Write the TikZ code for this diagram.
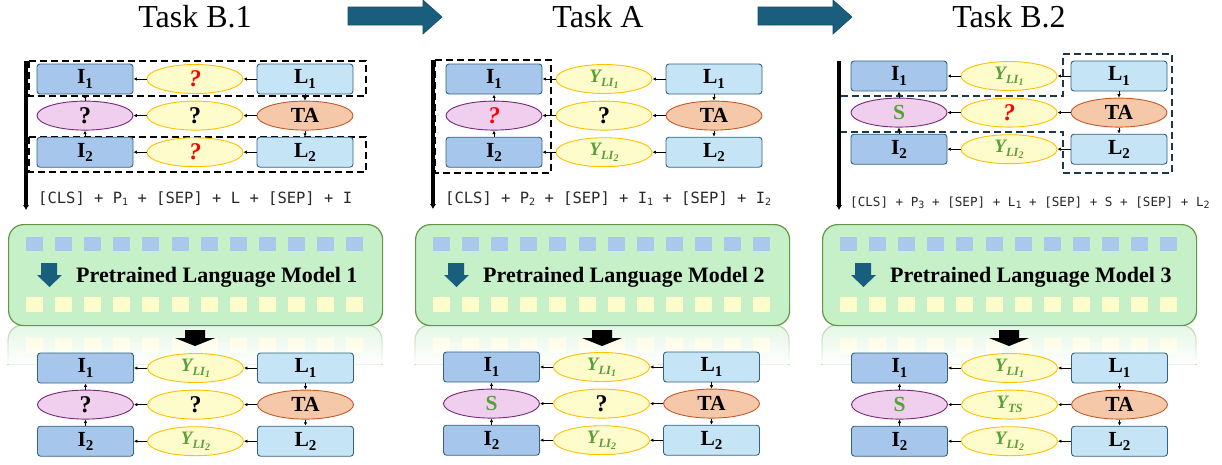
\documentclass[tikz,border=0pt]{standalone}
\usepackage{fontspec}
\setmainfont{Liberation Serif}
\newfontfamily\codefont{DejaVu Sans Mono}
\usetikzlibrary{shapes.geometric,arrows.meta,fadings}

\definecolor{iblue}{RGB}{166,199,235}
\definecolor{lblue}{RGB}{197,228,245}
\definecolor{boxedge}{RGB}{50,100,130}
\definecolor{yelfill}{RGB}{255,252,204}
\definecolor{yeledge}{RGB}{255,192,0}
\definecolor{pinkfill}{RGB}{240,206,238}
\definecolor{pinkedge}{RGB}{120,40,120}
\definecolor{tafill}{RGB}{246,200,170}
\definecolor{taedge}{RGB}{196,90,40}
\definecolor{okgreen}{RGB}{88,160,58}
\definecolor{modfill}{RGB}{197,240,200}
\definecolor{modedge}{RGB}{100,150,70}
\definecolor{sqblue}{RGB}{169,200,236}
\definecolor{sqyel}{RGB}{255,252,204}
\definecolor{arrowteal}{RGB}{26,94,126}
\definecolor{dashnavy}{RGB}{30,55,70}
\definecolor{codegray}{RGB}{40,40,40}

% label with a lowered index
\newcommand\nsub[2]{#1\raisebox{-0.45ex}{\fontsize{15}{15}\selectfont #2}}
% question marks: red ones slanted, black ones upright
\newcommand\qred{\textcolor{red}{\fontsize{24}{26}\selectfont\bfseries\itshape ?}}
\newcommand\qblk{{\fontsize{24}{26}\selectfont\bfseries ?}}
% green outputs
\newcommand\yli[1]{\textcolor{okgreen}{\fontsize{19}{20}\selectfont\itshape Y\raisebox{-0.45ex}{\fontsize{12.5}{13}\selectfont LI\raisebox{-0.35ex}{\fontsize{10}{10}\selectfont #1}}}}
\newcommand\yts{\textcolor{okgreen}{\fontsize{19}{20}\selectfont\itshape Y\raisebox{-0.45ex}{\fontsize{12.5}{13}\selectfont TS}}}
\newcommand\sgreen{\textcolor{okgreen}{\bfseries S}}
% subscript inside the token sequences
\newcommand\csub[1]{\raisebox{-0.35ex}{\fontsize{10}{10}\selectfont #1}}

\tikzset{
  cell/.style={minimum width=96pt, minimum height=30pt, inner sep=0pt,
    line width=0.9pt, font=\fontsize{21.5}{23}\selectfont\bfseries},
  ibox/.style={cell, rectangle, rounded corners=3pt, draw=boxedge, fill=iblue},
  lbox/.style={cell, rectangle, rounded corners=3pt, draw=boxedge, fill=lblue},
  yell/.style={cell, ellipse, minimum height=29pt, draw=yeledge, fill=yelfill},
  pinkell/.style={cell, ellipse, minimum height=29pt, draw=pinkedge, fill=pinkfill},
  taell/.style={cell, ellipse, minimum height=29pt, draw=taedge, fill=tafill},
  conn/.style={line width=0.9pt, -{Latex[length=3.5pt,width=3.5pt]}},
  dashbox/.style={line width=1.8pt, dash pattern=on 7pt off 4pt},
  spine/.style={line width=3.2pt, -{Latex[length=5pt,width=6.5pt]}},
  modbox/.style={rectangle, rounded corners=15pt, draw=modedge, line width=1.2pt,
    fill=modfill, minimum width=374pt, minimum height=101pt, inner sep=0pt},
  seqtext/.style={anchor=base west, inner sep=0pt, text=codegray},
  title/.style={anchor=base, inner sep=0pt, font=\fontsize{32}{36}\selectfont},
}

% 3x3 grid of inputs / outputs
% #1 prefix, #2 x of I column, #3 y of top row,
% #4 top middle, #5 left middle, #6 centre, #7 bottom middle
\newcommand\taskgrid[7]{%
  \begin{scope}[shift={(#2,#3)}]
    \node[ibox] (#1i1) at (0,0) {\nsub{I}{1}};
    \node[yell] (#1y1) at (110,0) {#4};
    \node[lbox] (#1l1) at (220,0) {\nsub{L}{1}};
    \node[pinkell] (#1pk) at (0,36.6) {#5};
    \node[yell] (#1y2) at (110,36.6) {#6};
    \node[taell] (#1ta) at (220,36.6) {TA};
    \node[ibox] (#1i2) at (0,73.2) {\nsub{I}{2}};
    \node[yell] (#1y3) at (110,73.2) {#7};
    \node[lbox] (#1l2) at (220,73.2) {\nsub{L}{2}};
  \end{scope}
  \draw[conn] (#1l1) -- (#1y1);
  \draw[conn] (#1y1) -- (#1i1);
  \draw[conn] (#1ta) -- (#1y2);
  \draw[conn] (#1y2) -- (#1pk);
  \draw[conn] (#1l2) -- (#1y3);
  \draw[conn] (#1y3) -- (#1i2);
  \draw[conn] (#1l1) -- (#1ta);
  \draw[conn] (#1ta) -- (#1l2);
  \draw[conn] (#1i2) -- (#1pk);
  \draw[conn] (#1pk) -- (#1i1);
}

% language model block with its reflection and output arrow
% #1 prefix, #2 left, #3 top, #4 model number
\newcommand\modelblock[4]{%
  \begin{scope}[shift={(#2,#3)}]
    % mirrored copy below the block
    \begin{scope}
      \clip (-3,101) rectangle (377,140);
      \draw[rounded corners=15pt, draw=modedge!45!white, line width=1.2pt,
        fill=modfill!45!white] (0,101) rectangle (374,203);
      \foreach \k in {0,...,11}
        \fill[sqyel!70!white] (18+29.1*\k,114) rectangle ++(17,15);
    \end{scope}
    \fill[white, path fading=north] (-3,101) rectangle (377,140);
    \node[modbox, anchor=north west] (#1m) at (0,0) {};
    \foreach \k in {0,...,11} {
      \fill[sqblue] (18+29.1*\k,13) rectangle ++(17,14);
      \fill[sqyel] (18+29.1*\k,73) rectangle ++(17,15);
    }
    \fill[arrowteal] (33,39) -- (49,39) -- (49,51) -- (54,51) -- (41.5,63)
      -- (29,51) -- (33,51) -- cycle;
    \node[anchor=west, inner sep=0pt, font=\fontsize{22}{24}\selectfont\bfseries]
      (#1t) at (68,53) {Pretrained Language Model #4};
    \fill[black] (177,106) -- (197,106) -- (197,114) -- (207,114) -- (187,122)
      -- (167,114) -- (177,114) -- cycle;
  \end{scope}
}

\begin{document}
\begin{tikzpicture}[x=1pt, y=-1pt]
  \useasboundingbox (0,0) rectangle (1222,464);

  % titles and stage arrows
  \node[title] (tb1) at (195,27) {Task B.1};
  \node[title] (ta) at (598,27) {Task A};
  \node[title] (tb2) at (1009,27) {Task B.2};
  \filldraw[fill=arrowteal, draw=arrowteal!80!black, line width=0.6pt]
    (348,7) -- (423,7) -- (423,0) -- (442,17) -- (423,34) -- (423,25) -- (348,25) -- cycle;
  \filldraw[fill=arrowteal, draw=arrowteal!80!black, line width=0.6pt]
    (758,7) -- (833,7) -- (833,0) -- (852,17) -- (833,34) -- (833,25) -- (758,25) -- cycle;

  % ---------- Task B.1 ----------
  \draw[dashbox] (29,61) rectangle (366,96);
  \draw[dashbox] (29,137) rectangle (366,172);
  \taskgrid{p}{85}{79}{\qred}{\qblk}{\qblk}{\qred}
  \draw[spine] (26,61) -- (26,210);
  \node[seqtext, font=\codefont\fontsize{15.5}{16}\selectfont] (s1) at (38,203)
    {[CLS] + P\csub{1} + [SEP] + L + [SEP] + I};

  % ---------- Task A ----------
  \draw[dashbox] (435,60) rectangle (551,173);
  \taskgrid{r}{494}{79}{\yli{1}}{\qred}{\qblk}{\yli{2}}
  \draw[spine] (433,60) -- (433,209);
  \node[seqtext, font=\codefont\fontsize{15.5}{16}\selectfont] (s2) at (445,203)
    {[CLS] + P\csub{2} + [SEP] + I\csub{1} + [SEP] + I\csub{2}};

  % ---------- Task B.2 ----------
  \draw[dashbox, draw=dashnavy] (1063,54) -- (1172,54) -- (1172,173) -- (1063,173)
    -- (1063,132) -- (840,132) -- (840,96) -- (1063,96) -- cycle;
  \taskgrid{u}{899}{76}{\yli{1}}{\sgreen}{\qred}{\yli{2}}
  \draw[spine] (839,61) -- (839,210);
  \node[seqtext, font=\codefont\fontsize{12.6}{14}\selectfont] (s3) at (850,206)
    {[CLS] + P\csub{3} + [SEP] + L\csub{1} + [SEP] + S + [SEP] + L\csub{2}};

  % ---------- language models ----------
  \modelblock{a}{8}{224}{1}
  \modelblock{b}{415}{224}{2}
  \modelblock{c}{822}{224}{3}

  % ---------- predictions ----------
  \taskgrid{v}{85.5}{368}{\yli{1}}{\qblk}{\qblk}{\yli{2}}
  \taskgrid{w}{491.5}{367}{\yli{1}}{\sgreen}{\qblk}{\yli{2}}
  \taskgrid{z}{899.5}{368}{\yli{1}}{\sgreen}{\yts}{\yli{2}}
\end{tikzpicture}
\end{document}
